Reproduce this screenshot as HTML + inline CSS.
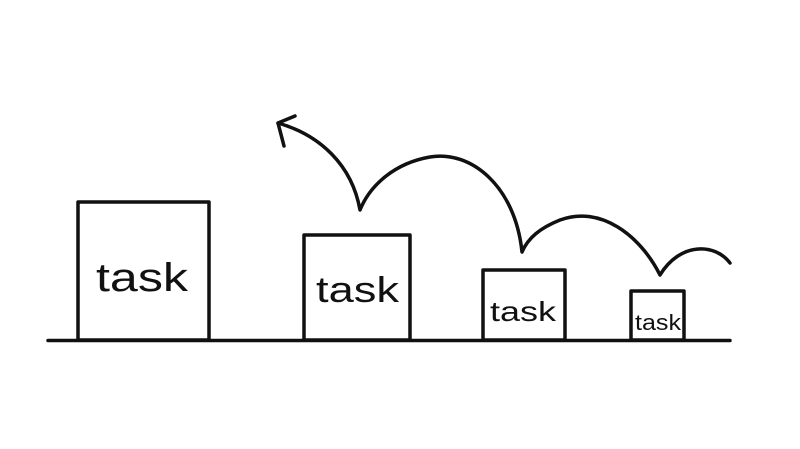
<!DOCTYPE html>
<html><head><style>html,body{margin:0;padding:0;background:#fff}svg{display:block}</style></head>
<body>
<svg width="800" height="449" viewBox="0 0 800 449" xmlns="http://www.w3.org/2000/svg">
<g fill="none" stroke="#111" stroke-width="3.5" stroke-linecap="round" stroke-linejoin="round">
<line x1="48" y1="340.5" x2="730" y2="340.5"/>
<rect x="78" y="202" width="131" height="138"/>
<rect x="304" y="235" width="106" height="105"/>
<rect x="483" y="270" width="82" height="70"/>
<rect x="631" y="291" width="53" height="49"/>
<path d="M730 263 C 715 243, 680 242, 660 275 C 640 235, 600 205, 560 220 C 540 228, 528 238, 522 252 C 515 185, 470 150, 430 157 C 395 163, 370 185, 360 210 C 352 165, 320 135, 278 123"/>
<path d="M295 116 L278 123 L284 146"/>
</g>
<g font-family="Liberation Sans, sans-serif" fill="#111">
<text x="96" y="291" font-size="40" textLength="92" lengthAdjust="spacingAndGlyphs">task</text>
<text x="316" y="302" font-size="36" textLength="83" lengthAdjust="spacingAndGlyphs">task</text>
<text x="490" y="321" font-size="28" textLength="66" lengthAdjust="spacingAndGlyphs">task</text>
<text x="635" y="330" font-size="22" textLength="46" lengthAdjust="spacingAndGlyphs">task</text>
</g>
</svg>
</body></html>
